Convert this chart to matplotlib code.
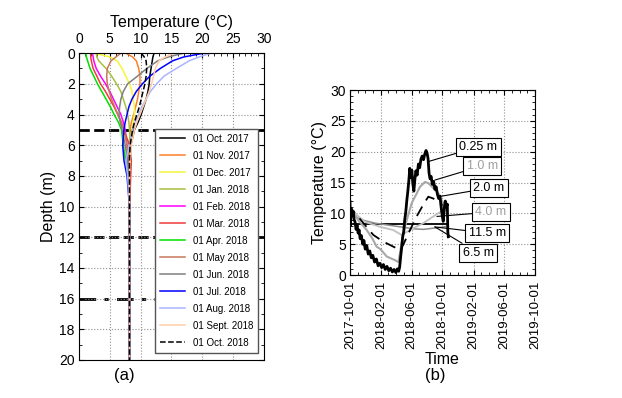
import numpy as np
import matplotlib
matplotlib.use("Agg")
import matplotlib.pyplot as plt
import matplotlib.dates as mdates

plt.rcParams['font.family'] = ['Liberation Sans', 'DejaVu Sans']

# ---- (a) temperature profiles ----
depths = [0, 0.25, 0.5, 1, 1.5, 2, 2.5, 3, 3.5, 4, 4.5, 5, 6, 7, 8, 10, 12, 14, 16, 18, 20]

profiles = {
    "01 Oct. 2017":  [12.2, 12.0, 11.9, 11.7, 11.5, 11.4, 11.2, 10.9, 10.5, 10.1, 9.6, 9.0, 8.4, 8.3, 8.2, 8.2, 8.2, 8.2, 8.2, 8.2, 8.2],
    "01 Nov. 2017":  [7.6, 8.7, 9.3, 9.7, 9.9, 9.9, 9.7, 9.5, 9.2, 8.9, 8.5, 8.3, 8.2, 8.2, 8.2, 8.2, 8.2, 8.1, 8.1, 8.1, 8.1],
    "01 Dec. 2017":  [2.5, 5.0, 6.2, 7.0, 7.6, 8.2, 8.6, 8.8, 9.0, 9.0, 8.8, 8.6, 8.4, 8.3, 8.2, 8.2, 8.2, 8.2, 8.2, 8.2, 8.2],
    "01 Jan. 2018":  [2.8, 2.9, 3.2, 4.4, 5.3, 6.1, 6.8, 7.2, 7.6, 7.9, 8.1, 8.2, 8.3, 8.3, 8.2, 8.2, 8.2, 8.2, 8.2, 8.2, 8.2],
    "01 Feb. 2018":  [2.2, 2.3, 2.4, 2.8, 3.5, 4.3, 5.0, 5.6, 6.2, 6.8, 7.2, 7.5, 7.8, 8.0, 8.2, 8.2, 8.2, 8.2, 8.2, 8.2, 8.2],
    "01 Mar. 2018":  [1.9, 1.9, 2.0, 2.3, 2.9, 3.5, 4.3, 5.0, 5.7, 6.3, 6.9, 7.3, 8.2, 8.5, 8.4, 8.2, 8.2, 8.2, 8.2, 8.2, 8.2],
    "01 Apr. 2018":  [1.1, 1.2, 1.4, 1.8, 2.4, 3.0, 3.7, 4.4, 5.1, 5.7, 6.4, 6.9, 7.2, 7.6, 8.0, 8.2, 8.2, 8.2, 8.2, 8.2, 8.2],
    "01 May 2018":   [6.8, 6.0, 5.2, 4.6, 4.5, 4.6, 4.9, 5.3, 5.8, 6.3, 6.8, 7.3, 7.8, 8.1, 8.2, 8.2, 8.2, 8.2, 8.2, 8.2, 8.2],
    "01 Jun. 2018":  [17.0, 14.5, 12.8, 11.0, 9.5, 7.9, 7.2, 6.8, 6.6, 6.5, 6.7, 7.0, 7.5, 7.9, 8.1, 8.2, 8.2, 8.2, 8.2, 8.2, 8.2],
    "01 Jul. 2018":  [20.3, 17.0, 15.2, 13.2, 11.5, 10.3, 9.3, 8.6, 8.1, 7.8, 7.5, 7.3, 7.1, 7.3, 7.8, 8.2, 8.2, 8.2, 8.2, 8.2, 8.2],
    "01 Aug. 2018":  [21.4, 19.5, 17.9, 15.8, 13.8, 12.6, 11.6, 10.9, 10.2, 9.7, 9.1, 8.7, 8.2, 7.6, 7.9, 8.2, 8.2, 8.2, 8.2, 8.2, 8.2],
    "01 Sept. 2018": [15.5, 14.0, 13.0, 12.4, 12.1, 11.8, 11.4, 10.9, 10.4, 9.9, 9.4, 9.0, 8.5, 8.3, 8.2, 8.2, 8.2, 8.2, 8.2, 8.2, 8.2],
    "01 Oct. 2018":  [10.1, 10.6, 10.9, 11.0, 10.9, 10.7, 10.4, 10.1, 9.8, 9.4, 9.0, 8.7, 8.3, 8.2, 8.2, 8.2, 8.2, 8.2, 8.2, 8.2, 8.2],
}
profile_colors = ["#000000", "#ff7f27", "#f5f53c", "#a8c040", "#ff00ff", "#ee3b3b",
                  "#00e000", "#c8785a", "#808080", "#0000ff", "#aab4ff", "#ffcca8", "#000000"]

layer_depths = [5, 12, 16]
layer_styles = ["--", "--", (0, (6, 3, 1.5, 3))]

# ---- (b) temperature time series, days after 2017-10-01 ----
start = np.datetime64("2017-10-01")

days_025 = [0, 2, 4, 7, 10, 13, 16, 20, 24, 28, 32, 36, 40, 45, 50, 55, 60, 66, 72, 78, 84, 90,
            97, 104, 111, 118, 125, 132, 139, 146, 153, 160, 167, 174, 181, 187, 192, 196, 200,
            204, 208, 212, 216, 220, 224, 228, 232, 236, 240, 244, 248, 252, 256, 260, 265, 270,
            275, 280, 285, 290, 295, 300, 304, 308, 312, 316, 320, 325, 330, 335, 340, 345, 350,
            355, 360, 364, 368, 372, 376, 380, 384, 386, 388]
temp_025 = [11.9, 8.0, 10.8, 10.2, 9.6, 10.3, 9.0, 8.6, 7.4, 8.1, 6.8, 7.3, 5.9, 6.4, 5.0, 5.6, 4.2,
            4.8, 3.4, 3.9, 2.8, 3.2, 2.1, 2.6, 1.5, 1.9, 1.2, 1.7, 0.9, 1.4, 0.7, 1.1, 0.5, 0.9, 0.4,
            1.0, 0.6, 1.3, 3.0, 4.5, 6.2, 7.0, 9.0, 10.2, 12.0, 13.5, 15.2, 17.3, 15.8, 17.0, 14.8,
            13.6, 15.5, 16.9, 16.2, 18.0, 17.4, 18.8, 19.3, 18.7, 19.6, 20.2, 19.8, 18.9, 16.5, 15.6,
            16.0, 14.7, 15.2, 13.9, 14.3, 13.1, 12.4, 12.8, 10.9, 9.6, 8.7, 10.8, 12.0, 11.0, 11.5,
            7.0, 6.2]

days_10 = [0, 5, 30, 66, 90, 105, 120, 145, 178, 191, 197, 210, 224, 243, 250, 263, 276, 296,
           309, 329, 349, 368, 381]
temp_10 = [10.2, 10.8, 9.0, 7.3, 5.8, 4.6, 4.2, 3.0, 2.4, 2.1, 3.5, 6.8, 8.9, 11.6, 12.2, 13.2,
           14.3, 15.1, 14.9, 14.1, 13.2, 11.6, 10.5]

days_20 = [0, 5, 53, 92, 132, 171, 197, 210, 237, 263, 289, 309, 329, 355, 381]
temp_20 = [10.0, 10.8, 8.4, 6.5, 5.4, 4.6, 4.05, 4.9, 7.3, 9.5, 11.4, 12.7, 12.4, 11.6, 11.1]

days_40 = [0, 5, 60, 120, 170, 204, 250, 289, 329, 355, 381]
temp_40 = [10.0, 10.5, 8.6, 7.8, 7.3, 6.5, 7.6, 8.4, 9.5, 10.2, 10.5]

days_65 = [0, 30, 60, 100, 150, 200, 250, 290, 330, 388]
temp_65 = [10.0, 9.3, 8.8, 8.4, 8.1, 7.8, 7.5, 7.4, 7.6, 7.9]

days_115 = [0, 388]
temp_115 = [8.2, 8.2]

labels_b = ["0.25 m", "1.0 m", "2.0 m", "4.0 m", "11.5 m", "6.5 m"]
label_text_colors = ["black", "#a0a0a0", "black", "#a0a0a0", "black", "black"]
label_box_day = [432, 460, 487, 495, 468, 444]
label_box_temp = [20.8, 17.7, 14.1, 10.2, 6.8, 3.6]
label_point_day = [309, 335, 349, 343, 335, 335]
label_point_temp = [18.4, 15.4, 12.7, 9.5, 7.8, 7.8]


def to_dates(days):
    return start + np.array(days).astype("timedelta64[D]")


fig = plt.figure(figsize=(6.22, 3.98), dpi=100)

# ---------------- panel (a) ----------------
ax1 = fig.add_axes([0.127, 0.0955, 0.297, 0.771])
for (label, temps), color in zip(profiles.items(), profile_colors):
    ls = "--" if label == "01 Oct. 2018" else "-"
    ax1.plot(temps, depths, color=color, lw=1.1, ls=ls, label=label)

for d, ls in zip(layer_depths, layer_styles):
    ax1.axhline(d, color="black", lw=2, ls=ls, zorder=1)

ax1.set_xlim(0, 30)
ax1.set_ylim(20, 0)
ax1.set_xticks(np.arange(0, 31, 5))
ax1.set_xticks(np.arange(0, 31, 1), minor=True)
ax1.set_yticks(np.arange(0, 21, 2))
ax1.set_yticks(np.arange(0, 21, 1), minor=True)
ax1.xaxis.tick_top()
ax1.xaxis.set_label_position("top")
ax1.tick_params(which="both", direction="in", top=True, right=True, labelsize=10, pad=3)
ax1.tick_params(axis="x", pad=5)
ax1.tick_params(which="minor", length=2)
ax1.grid(True, ls=":", color="#909090", lw=0.8)
ax1.set_xlabel("Temperature (°C)", fontsize=11.5, labelpad=4)
ax1.set_ylabel("Depth (m)", fontsize=11.5, labelpad=2)
leg = ax1.legend(loc="lower right", bbox_to_anchor=(0.995, 0.008), fontsize=7,
                 frameon=True, fancybox=False, edgecolor="#555555", framealpha=1,
                 labelspacing=0.72, handlelength=2.6, borderpad=0.5)
leg.set_zorder(5)
fig.text(0.2, 0.045, "(a)", fontsize=12, ha="center")

# ---------------- panel (b) ----------------
ax2 = fig.add_axes([0.5627, 0.309, 0.2974, 0.4648])
ax2.plot(to_dates(days_115), temp_115, color="black", lw=1.3)
ax2.plot(to_dates(days_65), temp_65, color="#8c8c8c", lw=1.1)
ax2.plot(to_dates(days_40), temp_40, color="#c0c0c0", lw=1.3)
ax2.plot(to_dates(days_20), temp_20, color="black", lw=1.3, ls=(0, (6, 4)))
ax2.plot(to_dates(days_10), temp_10, color="#a8a8a8", lw=1.5)
ax2.plot(to_dates(days_025), temp_025, color="black", lw=2)

for text, tc, bd, bt, pd_, pt in zip(labels_b, label_text_colors, label_box_day,
                                      label_box_temp, label_point_day, label_point_temp):
    ax2.annotate(text, xy=(to_dates([pd_])[0], pt), xytext=(to_dates([bd])[0], bt),
                 ha="left", va="center", fontsize=9, color=tc, annotation_clip=False,
                 bbox=dict(boxstyle="square,pad=0.25", fc="white", ec="black", lw=0.8),
                 arrowprops=dict(arrowstyle="-", color="black", lw=0.8,
                                 shrinkA=0, shrinkB=0))

ax2.set_xlim(np.datetime64("2017-10-01"), np.datetime64("2019-10-01"))
ax2.set_ylim(0, 30)
ax2.xaxis.set_major_locator(mdates.MonthLocator(bymonth=[2, 6, 10]))
ax2.xaxis.set_minor_locator(mdates.MonthLocator())
ax2.xaxis.set_major_formatter(mdates.DateFormatter("%Y-%m-%d"))
ax2.set_yticks(np.arange(0, 31, 5))
ax2.set_yticks(np.arange(0, 31, 1), minor=True)
ax2.tick_params(which="both", direction="in", top=True, right=True, labelsize=10, pad=3)
ax2.tick_params(axis="x", labelrotation=90, pad=4, labelsize=9.5)
ax2.tick_params(which="minor", length=2)
ax2.grid(True, ls=":", color="#909090", lw=0.8)
ax2.set_xlabel("Time", fontsize=11.5, labelpad=2)
ax2.set_ylabel("Temperature (°C)", fontsize=11.5, labelpad=2)
fig.text(0.7, 0.045, "(b)", fontsize=12, ha="center")

fig.savefig("out.png", dpi=100)
